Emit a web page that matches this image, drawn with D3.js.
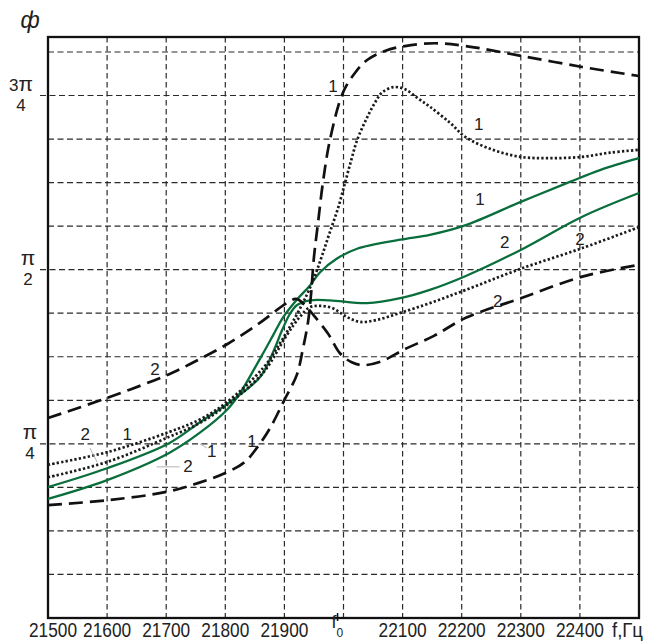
<!DOCTYPE html>
<html>
<head>
<meta charset="utf-8">
<script src="https://cdn.jsdelivr.net/npm/d3@7"></script>
<style>
  body { margin: 0; background: #fff; }
  text { font-family: "Liberation Sans", Arial, sans-serif; fill: #222; }
</style>
</head>
<body>
<div id="chart"></div>
<script>
// frequency (Hz) vs phase (in fractions of pi)
const dashed1 = [[21500,0.162],[21600,0.169],[21700,0.181],[21755,0.194],[21800,0.208],[21833,0.224],[21855,0.246],[21876,0.273],[21900,0.313],[21921,0.349],[21931,0.385],[21940,0.425],[21945,0.464],[21950,0.518],[21957,0.568],[21965,0.624],[21977,0.686],[21999,0.754],[22019,0.782],[22040,0.801],[22070,0.814],[22104,0.821],[22155,0.825],[22207,0.821],[22300,0.807],[22404,0.791],[22500,0.778]];
const dashed2 = [[21500,0.287],[21600,0.316],[21705,0.350],[21755,0.371],[21803,0.393],[21854,0.421],[21904,0.452],[21920,0.458],[21935,0.449],[21950,0.434],[21974,0.408],[21994,0.380],[22014,0.367],[22033,0.363],[22063,0.368],[22104,0.386],[22153,0.405],[22207,0.431],[22300,0.459],[22404,0.490],[22500,0.507]];
const dotted1 = [[21500,0.220],[21600,0.238],[21705,0.267],[21757,0.285],[21803,0.310],[21864,0.359],[21893,0.395],[21918,0.431],[21938,0.464],[21952,0.492],[21964,0.521],[21977,0.554],[21991,0.589],[22003,0.626],[22013,0.657],[22023,0.686],[22038,0.715],[22052,0.738],[22065,0.754],[22084,0.762],[22104,0.759],[22126,0.746],[22146,0.734],[22180,0.711],[22207,0.690],[22253,0.672],[22299,0.662],[22349,0.660],[22404,0.662],[22451,0.668],[22500,0.672]];
const dotted2 = [[21500,0.202],[21600,0.224],[21705,0.260],[21757,0.280],[21803,0.306],[21864,0.352],[21904,0.406],[21926,0.432],[21943,0.446],[21960,0.448],[21981,0.445],[22006,0.432],[22028,0.425],[22057,0.428],[22096,0.438],[22146,0.452],[22207,0.471],[22299,0.501],[22404,0.531],[22500,0.561]];
const green1 = [[21500,0.171],[21600,0.198],[21705,0.237],[21757,0.266],[21803,0.299],[21825,0.323],[21850,0.359],[21864,0.380],[21881,0.406],[21898,0.432],[21921,0.457],[21943,0.477],[21960,0.496],[21989,0.516],[22023,0.530],[22096,0.543],[22146,0.550],[22207,0.564],[22299,0.597],[22383,0.626],[22434,0.643],[22500,0.660]];
const green2 = [[21500,0.188],[21600,0.215],[21705,0.251],[21757,0.281],[21808,0.310],[21859,0.346],[21881,0.382],[21896,0.413],[21909,0.436],[21921,0.449],[21943,0.456],[21977,0.456],[22040,0.452],[22096,0.459],[22146,0.471],[22207,0.491],[22299,0.528],[22404,0.576],[22500,0.610]];

// axis ticks
const xTickValues = [21500, 21600, 21700, 21800, 21900, 22100, 22200, 22300, 22400];
const f0 = 21990;
const xGridValues = [21600, 21700, 21800, 21900, 22000, 22100, 22200, 22300, 22400];
const yTickValues = [0.25, 0.5, 0.75];
const yTickCoef = ['', '', '3'];
const yTickDen = ['4', '2', '4'];

// curve number labels: [text, f, phase]
const curveLabels = [
  ['1', 21982, 0.755], ['1', 22229, 0.701], ['1', 22231, 0.593],
  ['2', 22273, 0.531], ['2', 22400, 0.535], ['2', 22261, 0.446],
  ['2', 21681, 0.349], ['2', 21563, 0.256], ['1', 21634, 0.256],
  ['1', 21777, 0.231], ['2', 21737, 0.210], ['1', 21845, 0.245]
];
// thin leader lines: [f1, phase1, f2, phase2]
const leaders = [
  [21571, 0.244, 21583, 0.224],
  [21757, 0.250, 21769, 0.244],
  [21684, 0.217, 21723, 0.217]
];

const margin = { top: 37, right: 12, bottom: 23, left: 48 };
const width = 651 - margin.left - margin.right;
const height = 641 - margin.top - margin.bottom;

const svgRoot = d3.select('#chart')
  .append('svg')
  .attr('width', 651)
  .attr('height', 641);

svgRoot.append('rect').attr('width', 651).attr('height', 641).attr('fill', '#fff');

const svg = svgRoot.append('g')
  .attr('transform', `translate(${margin.left}, ${margin.top})`);

const x = d3.scaleLinear().domain([21500, 22500]).range([0, width]);
const y = d3.scaleLinear().domain([0, 0.834]).range([height, 0]);

// grid
const yGrid = d3.range(1, 14).map(k => k / 16);
svg.append('g').selectAll('line')
  .data(yGrid)
  .enter().append('line')
  .attr('x1', d => yTickValues.includes(d) ? -8 : 0)
  .attr('x2', width)
  .attr('y1', d => y(d)).attr('y2', d => y(d))
  .attr('stroke', '#2a2a2a').attr('stroke-width', 1.2)
  .attr('stroke-dasharray', '6,3.5');

svg.append('g').selectAll('line')
  .data(xGridValues)
  .enter().append('line')
  .attr('x1', d => x(d)).attr('x2', d => x(d))
  .attr('y1', 0).attr('y2', height)
  .attr('stroke', '#2a2a2a').attr('stroke-width', 1.2)
  .attr('stroke-dasharray', '5.5,3.5');

// frame
svg.append('rect')
  .attr('width', width).attr('height', height)
  .attr('fill', 'none').attr('stroke', '#111').attr('stroke-width', 2.3);

// f0 tick
svg.append('line')
  .attr('x1', x(f0)).attr('x2', x(f0))
  .attr('y1', height - 5).attr('y2', height + 3)
  .attr('stroke', '#111').attr('stroke-width', 1.5);

// curves
const line = d3.line()
  .x(d => x(d[0]))
  .y(d => y(d[1]))
  .curve(d3.curveCatmullRom.alpha(0.5));

const series = [
  { data: green1, color: '#0a6e3c', width: 2.3, dash: null },
  { data: green2, color: '#0a6e3c', width: 2.3, dash: null },
  { data: dotted1, color: '#1a1a1a', width: 2.7, dash: '2.3,2.2' },
  { data: dotted2, color: '#1a1a1a', width: 2.7, dash: '2.3,2.2' },
  { data: dashed1, color: '#111', width: 2.7, dash: '14,7' },
  { data: dashed2, color: '#111', width: 2.7, dash: '14,7' }
];

svg.append('g').selectAll('path')
  .data(series)
  .enter().append('path')
  .attr('d', d => line(d.data))
  .attr('fill', 'none')
  .attr('stroke', d => d.color)
  .attr('stroke-width', d => d.width)
  .attr('stroke-dasharray', d => d.dash);

// leaders
svg.append('g').selectAll('line')
  .data(leaders)
  .enter().append('line')
  .attr('x1', d => x(d[0])).attr('y1', d => y(d[1]))
  .attr('x2', d => x(d[2])).attr('y2', d => y(d[3]))
  .attr('stroke', '#aaa').attr('stroke-width', 0.9);

// curve labels
svg.append('g').selectAll('text')
  .data(curveLabels)
  .enter().append('text')
  .attr('x', d => x(d[1]))
  .attr('y', d => y(d[2]))
  .attr('text-anchor', 'middle')
  .style('font-size', '17px')
  .text(d => d[0]);

// x tick labels
svg.append('g').selectAll('text')
  .data(xTickValues)
  .enter().append('text')
  .attr('x', (d, i) => x(d) + (i === 0 ? 5 : 0))
  .attr('y', height + 19)
  .attr('text-anchor', 'middle')
  .attr('textLength', 48)
  .attr('lengthAdjust', 'spacingAndGlyphs')
  .style('font-size', '20px')
  .text(d => d);

const f0Label = svg.append('text')
  .attr('x', x(f0) - 6)
  .attr('y', height + 10)
  .style('font-size', '18px');
f0Label.append('tspan').text('f');
f0Label.append('tspan').attr('dy', 9).style('font-size', '12px').text('0');

svg.append('text')
  .attr('x', width + 4)
  .attr('y', height + 19)
  .attr('text-anchor', 'end')
  .attr('textLength', 31)
  .attr('lengthAdjust', 'spacingAndGlyphs')
  .style('font-size', '20px')
  .text('f,Гц');

// y tick labels (fractions of pi)
const yLabelX = [30, 28, 21];
const yLab = svg.append('g');
yTickValues.forEach((v, i) => {
  const num = yLab.append('text')
    .attr('x', yLabelX[i] - margin.left)
    .attr('y', y(v) - 5)
    .attr('text-anchor', 'middle')
    .style('font-size', '17px');
  num.append('tspan').text(yTickCoef[i]);
  num.append('tspan').style('font-size', '21px').text('π');
  yLab.append('text')
    .attr('x', yLabelX[i] - margin.left)
    .attr('y', y(v) + 15)
    .attr('text-anchor', 'middle')
    .style('font-size', '17px')
    .text(yTickDen[i]);
});

// axis title
svgRoot.append('text')
  .attr('x', 30)
  .attr('y', 28)
  .attr('text-anchor', 'middle')
  .style('font-size', '23px')
  .style('font-style', 'italic')
  .text('ф');
</script>
</body>
</html>
